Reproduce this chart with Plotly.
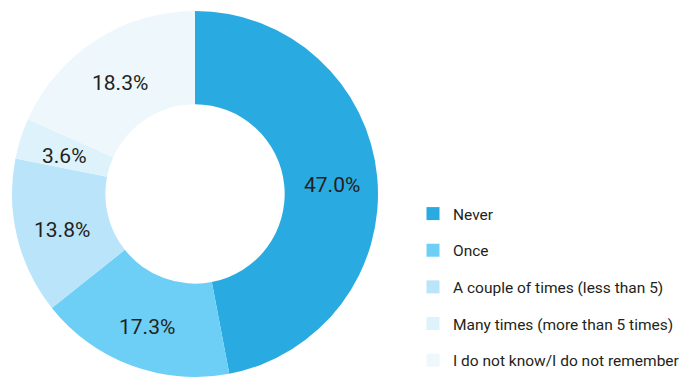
import math
import plotly.graph_objects as go

labels = ["Never", "Once", "A couple of times (less than 5)",
          "Many times (more than 5 times)", "I do not know/I do not remember"]
values = [47.0, 17.3, 13.8, 3.6, 18.3]
text_labels = ["47.0%", "17.3%", "13.8%", "3.6%", "18.3%"]
colors = ["#29ABE2", "#6DCFF5", "#BAE4F9", "#DDF2FB", "#EDF7FC"]

FONT = "Roboto, sans-serif"
W, H = 685, 377
HOLE = 0.49
# pie domain (pixels): left, right, bottom, top
dx0, dx1 = 12, 378
dy0, dy1 = 0, 366

fig = go.Figure()
fig.add_trace(go.Pie(
    labels=labels, values=values, textinfo="none",
    hole=HOLE, sort=False, direction="clockwise", rotation=0,
    marker=dict(colors=colors, line=dict(width=0)),
    domain=dict(x=[dx0 / W, dx1 / W], y=[dy0 / H, dy1 / H]),
    showlegend=False, hoverinfo="label+percent",
))

# percentage labels at the middle of each ring segment
cx, cy = (dx0 + dx1) / 2, (dy0 + dy1) / 2
R = min(dx1 - dx0, dy1 - dy0) / 2
rmid = R * (1 + HOLE) / 2 + 1
total = sum(values)
cum = 0.0
for v, t in zip(values, text_labels):
    ang = 2 * math.pi * (cum + v / 2) / total
    cum += v
    fig.add_annotation(
        x=(cx + rmid * math.sin(ang)) / W, y=(cy + rmid * math.cos(ang)) / H,
        xref="paper", yref="paper", xanchor="center", yanchor="middle",
        yshift=-4, text=t, showarrow=False,
        font=dict(family=FONT, size=21, color="#231F20"),
    )

for i, (lab, col) in enumerate(zip(labels, colors)):
    fig.add_trace(go.Scatter(
        x=[None], y=[None], mode="markers", name=lab,
        marker=dict(symbol="square", size=13, color=col),
        legendgroup=f"g{i}", showlegend=True,
    ))

fig.update_layout(
    width=W, height=H,
    margin=dict(l=0, r=0, t=0, b=0),
    paper_bgcolor="white", plot_bgcolor="white",
    xaxis=dict(visible=False), yaxis=dict(visible=False),
    legend=dict(x=1.0, y=0.0, xanchor="right", yanchor="bottom",
                font=dict(family=FONT, size=15.5, color="#231F20"),
                tracegroupgap=13.5, itemclick=False, bgcolor="rgba(0,0,0,0)"),
)
fig.write_html("out.html")
